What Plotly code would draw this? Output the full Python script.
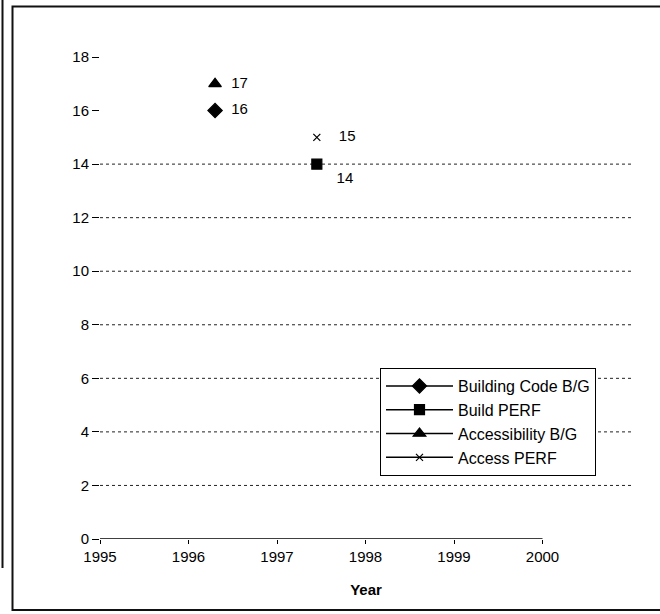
import plotly.graph_objects as go

# ---- data ----
series_names = ["Building Code B/G", "Build PERF", "Accessibility B/G", "Access PERF"]
series_x = [[1996.3], [1997.45], [1996.3], [1997.45]]
series_y = [[16], [14], [17], [15]]
x_tick_vals = [1995, 1996, 1997, 1998, 1999, 2000]
x_tick_text = ["1995", "1996", "1997", "1998", "1999", "2000"]
y_tick_vals = [0, 2, 4, 6, 8, 10, 12, 14, 16, 18]
grid_values = [2, 4, 6, 8, 10, 12, 14]

# ---- styles ----
symbols = ["diamond", "square", "triangle-up", "x-thin-open"]
sizes = [11, 10, 11, 7]
text_pos = ["middle right", "bottom right", "middle right", "middle right"]
text_pad = ["  ", "   ", "  ", "    "]

W, H = 660, 614
ML, MR, MT, MB = 100, 28, 57, 75
PW, PH = W - ML - MR, H - MT - MB

def px_x(p):
    return (p - ML) / PW

def px_y(p):
    return (H - MB - p) / PH

FONT = "Liberation Sans, Arial, sans-serif"

fig = go.Figure()
for name, xs, ys, sym, sz, tp, pad in zip(series_names, series_x, series_y, symbols, sizes, text_pos, text_pad):
    fig.add_trace(go.Scatter(
        x=xs, y=ys, name=name, mode="lines+markers+text",
        text=[pad + str(v) for v in ys], textposition=tp,
        textfont=dict(size=15, color="black", family=FONT),
        line=dict(color="black", width=1.5),
        marker=dict(symbol=sym, size=sz, color="black",
                    line=dict(color="black", width=1.2)),
    ))

shapes = []
for g in grid_values:
    shapes.append(dict(type="line", xref="paper", yref="y", x0=0, x1=1, y0=g, y1=g,
                       line=dict(color="#222", width=1, dash="dot"), layer="below"))
# x axis line from first to last tick
shapes.append(dict(type="line", xref="x", yref="y", x0=x_tick_vals[0], x1=x_tick_vals[-1],
                   y0=0, y1=0, line=dict(color="black", width=1.5)))
# scanned frame
shapes.append(dict(type="rect", xref="paper", yref="paper",
                   x0=px_x(12.5), x1=px_x(664), y0=px_y(610), y1=px_y(6.5),
                   line=dict(color="#111", width=2)))
shapes.append(dict(type="line", xref="paper", yref="paper",
                   x0=px_x(2.5), x1=px_x(2.5), y0=px_y(568), y1=px_y(-2),
                   line=dict(color="#111", width=2)))

fig.update_layout(
    width=W, height=H,
    margin=dict(l=ML, r=MR, t=MT, b=MB),
    paper_bgcolor="white", plot_bgcolor="white",
    font=dict(family=FONT, size=15, color="black"),
    shapes=shapes,
    showlegend=True,
    legend=dict(x=px_x(380), y=px_y(368), xanchor="left", yanchor="top",
                bordercolor="black", borderwidth=1, bgcolor="white",
                font=dict(size=16, color="black", family=FONT),
                tracegroupgap=0, itemwidth=67),
    xaxis=dict(range=[1995, 1995 + (632 - ML) / 88.5], tickvals=x_tick_vals, ticktext=x_tick_text,
               showgrid=False, zeroline=False, showline=False,
               ticks="outside", ticklen=4, tickcolor="black",
               tickfont=dict(size=15, color="black"),
               title=dict(text="<b>Year</b>", font=dict(size=15, color="black"), standoff=20)),
    yaxis=dict(range=[0, 18], tickvals=y_tick_vals, showgrid=False, zeroline=False,
               showline=False, ticks="outside", ticklen=7, tickcolor="black",
               tickfont=dict(size=15, color="black")),
)

fig.write_html("out.html", config={"displayModeBar": False},
               post_script="document.body.style.margin='0';")
